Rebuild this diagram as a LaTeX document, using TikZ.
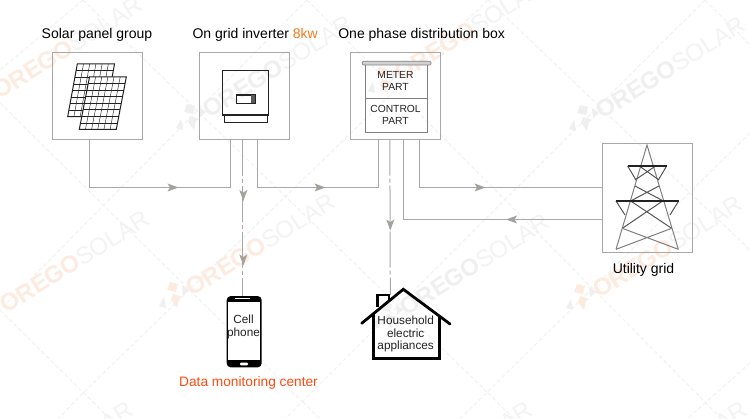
\documentclass[tikz,border=0pt]{standalone}
\usepackage{fontspec}
\setmainfont{Liberation Sans}
\usetikzlibrary{calc}
\definecolor{linegray}{HTML}{A8A8A8}
\definecolor{headgray}{HTML}{A5A29E}
\definecolor{wmline}{HTML}{F1F1F1}
\definecolor{wmorange}{HTML}{FDEBE0}
\definecolor{wmgray}{HTML}{EFEFEF}
\definecolor{wmsolar}{HTML}{F3F3F3}
\definecolor{ink}{HTML}{222222}
\definecolor{towerdark}{HTML}{555555}
\definecolor{towerlight}{HTML}{808080}
\definecolor{eightkw}{HTML}{F47B20}
\definecolor{datared}{HTML}{FF4A12}
\tikzset{
  x=1pt,y=-1pt,
  framebox/.style={draw=linegray,line width=0.9pt,minimum width=90pt,minimum height=87pt,inner sep=0pt},
  conn/.style={draw=linegray,line width=1pt},
  dashconn/.style={draw=linegray,line width=1pt,dash pattern=on 36pt off 3pt on 4pt off 3pt},
  caption/.style={anchor=base,inner sep=0pt,text=black,font=\fontsize{14}{16}\selectfont},
  small/.style={inner sep=0pt,align=center,text=ink,font=\fontsize{10.3}{12}\selectfont},
  inner/.style={inner sep=0pt,align=center,text=ink,font=\fontsize{11.8}{12.2}\selectfont},
  wmdiag/.style={draw=wmline,line width=1pt,dash pattern=on 4pt off 2.5pt},
  flowhead/.pic={\fill[headgray] (-5.5,-4) -- (5.5,0) -- (-5.5,4) -- (-3,0) -- cycle;},
  wmlogo/.pic={
    \fill[#1] (-18,-8) -- (-10,-6) -- (-12,2) -- (-21,0) -- cycle;
    \fill[#1] (-15,4) -- (-6,7) -- (-9,9) -- (-11,18) -- (-17,10) -- cycle;
    \fill[wmgray] (-24,7) -- (-22,18) -- (-29,16) -- cycle;
    \fill[wmgray] (-6,-5) -- (1,0) -- (-5,5) -- cycle;
  }
}
\newcommand{\wmark}[3]{\node[anchor=west,rotate=32,inner sep=0pt,font=\fontsize{24}{26}\selectfont] at (#1,#2) {\textcolor{#3}{\bfseries OREGO}\textcolor{wmsolar}{SOLAR}};}
\newcommand{\pvpanel}[8]{%
  \coordinate (tl) at (#1,#2); \coordinate (tr) at (#3,#4);
  \coordinate (br) at (#5,#6); \coordinate (bl) at (#7,#8);
  \fill[white] (tl) -- (tr) -- (br) -- (bl) -- cycle;
  \foreach \i in {1,...,5}{\draw[ink,line width=0.45pt] ($(tl)!\i/6!(tr)$) -- ($(bl)!\i/6!(br)$);}
  \foreach \i in {1,...,7}{\draw[ink,line width=0.45pt] ($(tl)!\i/8!(bl)$) -- ($(tr)!\i/8!(br)$);}
  \draw[ink,line width=1pt] (tl) -- (tr) -- (br) -- (bl) -- cycle;
}
\begin{document}
\begin{tikzpicture}
\useasboundingbox (0,0) rectangle (750,419);
\fill[white] (0,0) rectangle (750,419);
\begin{scope}
\clip (0,0) rectangle (750,419);
% watermark lattice
\foreach \a/\b/\c/\d in {
  0/103/303/402, 303/402/320/419, 83/0/488/393, 488/393/514/419,
  307/0/705/402, 705/402/722/419, 488/0/750/250, 705/0/750/45, 0/310/110/419,
  83/0/0/70, 307/0/0/310, 488/0/83/393, 83/393/58/419, 705/0/285/419,
  750/133/460/419, 750/363/687/419}{
  \draw[wmdiag] (\a,\b) -- (\c,\d);
}
\wmark{-5}{93}{wmorange}
\wmark{205}{112}{wmgray}
\wmark{397}{75}{wmorange}
\wmark{598}{113}{wmgray}
\wmark{2}{307}{wmorange}
\wmark{188}{290}{wmorange}
\wmark{402}{310}{wmgray}
\wmark{595}{292}{wmorange}
\wmark{-14}{498}{wmorange}
\wmark{385}{498}{wmgray}
\wmark{600}{498}{wmgray}
\pic at (205,112) {wmlogo=wmgray};
\pic at (397,75) {wmlogo=wmorange};
\pic at (598,113) {wmlogo=wmgray};
\pic at (188,290) {wmlogo=wmorange};
\pic at (402,310) {wmlogo=wmgray};
\pic at (595,292) {wmlogo=wmorange};
\end{scope}

% frames
\node[framebox] (panelbox) at (97.5,95.8) {};
\node[framebox] (inverterbox) at (244.5,95.8) {};
\node[framebox] (distbox) at (395.5,95.8) {};
\node[framebox,minimum height=109pt] (towerbox) at (647.5,197.8) {};

% captions
\node[caption] (cap1) at (97,38.3) {Solar panel group};
\node[caption] (cap2) at (255.2,38.3) {On grid inverter \textcolor{eightkw}{8kw}};
\node[caption] (cap3) at (421.6,38.3) {One phase distribution box};
\node[caption] (cap4) at (643.5,273.5) {Utility grid};
\node[caption,text=datared,font=\fontsize{13.7}{16}\selectfont] (cap5) at (248.5,387) {Data monitoring center};

% solar panels
\pvpanel{77.3}{64}{114.5}{64}{105}{116.7}{67.7}{116.7}
\pvpanel{89.5}{77}{126.3}{77}{116.3}{129.3}{79.3}{129.3}

% inverter
\draw[ink,line width=1.1pt] (222.7,70.7) rectangle (268.3,115);
\draw[ink,line width=1pt] (224,115) -- (224,122.7) -- (267.7,122.7) -- (267.7,115);
\draw[ink,line width=1.2pt] (236.7,95) rectangle (255,103.3);
\fill[ink!75] (250.5,95) rectangle (255,103.3);

% distribution box
\draw[gray,fill=gray!35,line width=0.7pt,rounded corners=1pt] (362.3,61.3) rectangle (431,65);
\draw[gray,line width=1.3pt] (365.7,65) -- (365.7,132.3) -- (427.3,132.3) -- (427.3,65);
\draw[gray,line width=1pt] (365.7,98.7) -- (427.3,98.7);
\node[small] (meter) at (395.5,81) {METER\\PART};
\node[small] (control) at (395.5,115) {CONTROL\\PART};

% tower
\begin{scope}[shift={(590,130)},x=0.3333pt,y=-0.3333pt]
\draw[towerlight,line width=1pt] (78,358) -- (171,45) -- (265,358);
\draw[towerdark,line width=1pt] (148,108) -- (207,150) (197,108) -- (135,150);
\draw[towerdark,line width=1pt] (135,168) -- (220,213) (207,168) -- (122,213);
\draw[towerdark,line width=1pt] (122,213) -- (245,295) (218,213) -- (97,295);
\draw[towerlight,line width=1pt] (97,295) -- (265,358) (245,295) -- (78,358);
\draw[towerdark,line width=1pt] (113,108) -- (138,150) (230,108) -- (205,150);
\draw[towerdark,line width=1pt] (78,213) -- (105,255) (266,213) -- (240,255);
\draw[ink,line width=1.4pt] (113,108) -- (230,108);
\draw[ink,line width=1.4pt] (78,213) -- (266,213);
\end{scope}

% phone
\node[fill=black,rounded corners=4pt,minimum width=35pt,minimum height=71.3pt,inner sep=0pt] (phone) at (244.2,331.7) {};
\fill[white] (228,301.7) rectangle (260,360);
\draw[white,line width=0.8pt] (235,298.6) -- (250,298.6);
\fill[white,rounded corners=1pt] (240,362.6) rectangle (248,365.4);
\node[inner,text=ink] (phonetext) at (243.5,327) {Cell\\phone};

% house
\node[inner sep=0pt,minimum width=66pt,minimum height=44pt] (house) at (406.3,336) {};
\draw[black,line width=2.8pt,line join=miter] (377.3,307) -- (377.3,295) -- (389,295) -- (389,300);
\draw[black,line width=2.8pt,line cap=round,line join=miter] (361.7,323.3) -- (403.3,289.3) -- (450,324);
\draw[black,line width=2.8pt,line join=miter] (373.3,314) -- (373.3,358.3) -- (439.3,358.3) -- (439.3,316);
\node[inner] (housetext) at (405.7,334) {Household\\electric\\appliances};
\coordinate (roofpoint) at (390.3,295);

% connectors
\coordinate (invdash) at ($(inverterbox.south west)+(43.8,0)$);
\coordinate (distdash) at ($(distbox.south west)+(39.8,0)$);
\draw[conn] ($(panelbox.south west)+(37,0)$) |- (180,187.5) -| ($(inverterbox.south west)+(31.2,0)$);
\draw[conn] ($(inverterbox.south west)+(58.8,0)$) |- (300,187.5) -| ($(distbox.south west)+(28.8,0)$);
\draw[conn] ($(distbox.south west)+(69.8,0)$) |- ($(towerbox.west)+(0,-10.3)$);
\draw[conn] ($(distbox.south west)+(53.5,0)$) |- ($(towerbox.west)+(0,21.7)$);
\draw[dashconn] (invdash) -- (invdash |- phone.north);
\draw[dashconn] (distdash) -- (roofpoint);

% arrowheads
\pic at (173,187.5) {flowhead};
\pic at (320,187.5) {flowhead};
\pic at (480,187.5) {flowhead};
\pic[rotate=180] at (511.5,219.5) {flowhead};
\pic[rotate=-90] at (243.3,195.5) {flowhead};
\pic[rotate=-90] at (243.3,260) {flowhead};
\pic[rotate=-90] at (390.3,225) {flowhead};
\end{tikzpicture}
\end{document}
